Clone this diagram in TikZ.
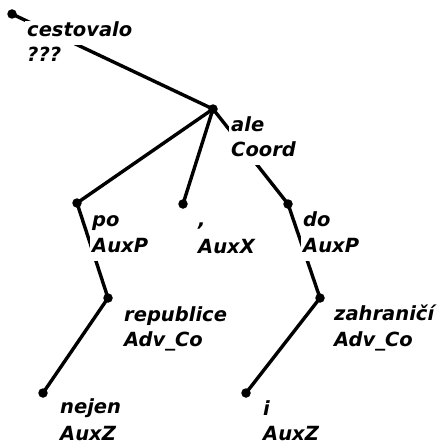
\documentclass[tikz,border=0pt]{standalone}
\usepackage{fontspec}
\newfontfamily\lblfont{DejaVu Sans}
\begin{document}
\begin{tikzpicture}[x=1pt,y=-1pt,
  dot/.style={circle,fill=black,inner sep=0pt,minimum size=9.5pt},
  edge/.style={line width=3.4pt},
  lbl/.style={anchor=base west,fill=white,inner xsep=2pt,inner ysep=0pt,
    text height=16pt,text depth=8.5pt,
    font=\lblfont\bfseries\itshape\fontsize{19.5}{24}\selectfont}]
\useasboundingbox (0,0) rectangle (437,444);
% nodes (dots)
\node[dot] (r)   at (12,14) {};
\node[dot] (ale) at (213,109) {};
\node[dot] (po)  at (77,203) {};
\node[dot] (cm)  at (183,204) {};
\node[dot] (do)  at (288,204) {};
\node[dot] (rep) at (108,298) {};
\node[dot] (zah) at (320,298) {};
\node[dot] (nej) at (43,393) {};
\node[dot] (i)   at (246,393) {};
% edges
\draw[edge] (r.center) -- (ale.center);
\draw[edge] (ale.center) -- (po.center);
\draw[edge] (ale.center) -- (cm.center);
\draw[edge] (ale.center) -- (do.center);
\draw[edge] (po.center) -- (rep.center);
\draw[edge] (rep.center) -- (nej.center);
\draw[edge] (do.center) -- (zah.center);
\draw[edge] (zah.center) -- (i.center);
% labels (second row first so the upper row stays on top)
\node[lbl] (rt)   at ([shift={(13,48)}]r.center) {???};
\node[lbl] (rw)   at ([shift={(13,23)}]r.center) {cestovalo};
\node[lbl] (alet) at ([shift={(16,47)}]ale.center) {Coord};
\node[lbl] (alew) at ([shift={(16,22)}]ale.center) {ale};
\node[lbl] (pot)  at ([shift={(13,49)}]po.center) {AuxP};
\node[lbl] (pow)  at ([shift={(13,23)}]po.center) {po};
\node[lbl] (cmt)  at ([shift={(13,49)}]cm.center) {AuxX};
\node[lbl] (cmw)  at ([shift={(13,22)}]cm.center) {,};
\node[lbl] (dot2) at ([shift={(13,48)}]do.center) {AuxP};
\node[lbl] (dow)  at ([shift={(13,22)}]do.center) {do};
\node[lbl] (rept) at ([shift={(14,48)}]rep.center) {Adv\_Co};
\node[lbl] (repw) at ([shift={(14,23)}]rep.center) {republice};
\node[lbl] (zaht) at ([shift={(12,48)}]zah.center) {Adv\_Co};
\node[lbl] (zahw) at ([shift={(12,22)}]zah.center) {zahraničí};
\node[lbl] (nejt) at ([shift={(15,47)}]nej.center) {AuxZ};
\node[lbl] (nejw) at ([shift={(15,20)}]nej.center) {nejen};
\node[lbl] (it)   at ([shift={(15,47)}]i.center) {AuxZ};
\node[lbl] (iw)   at ([shift={(15,22)}]i.center) {i};
\end{tikzpicture}
\end{document}
